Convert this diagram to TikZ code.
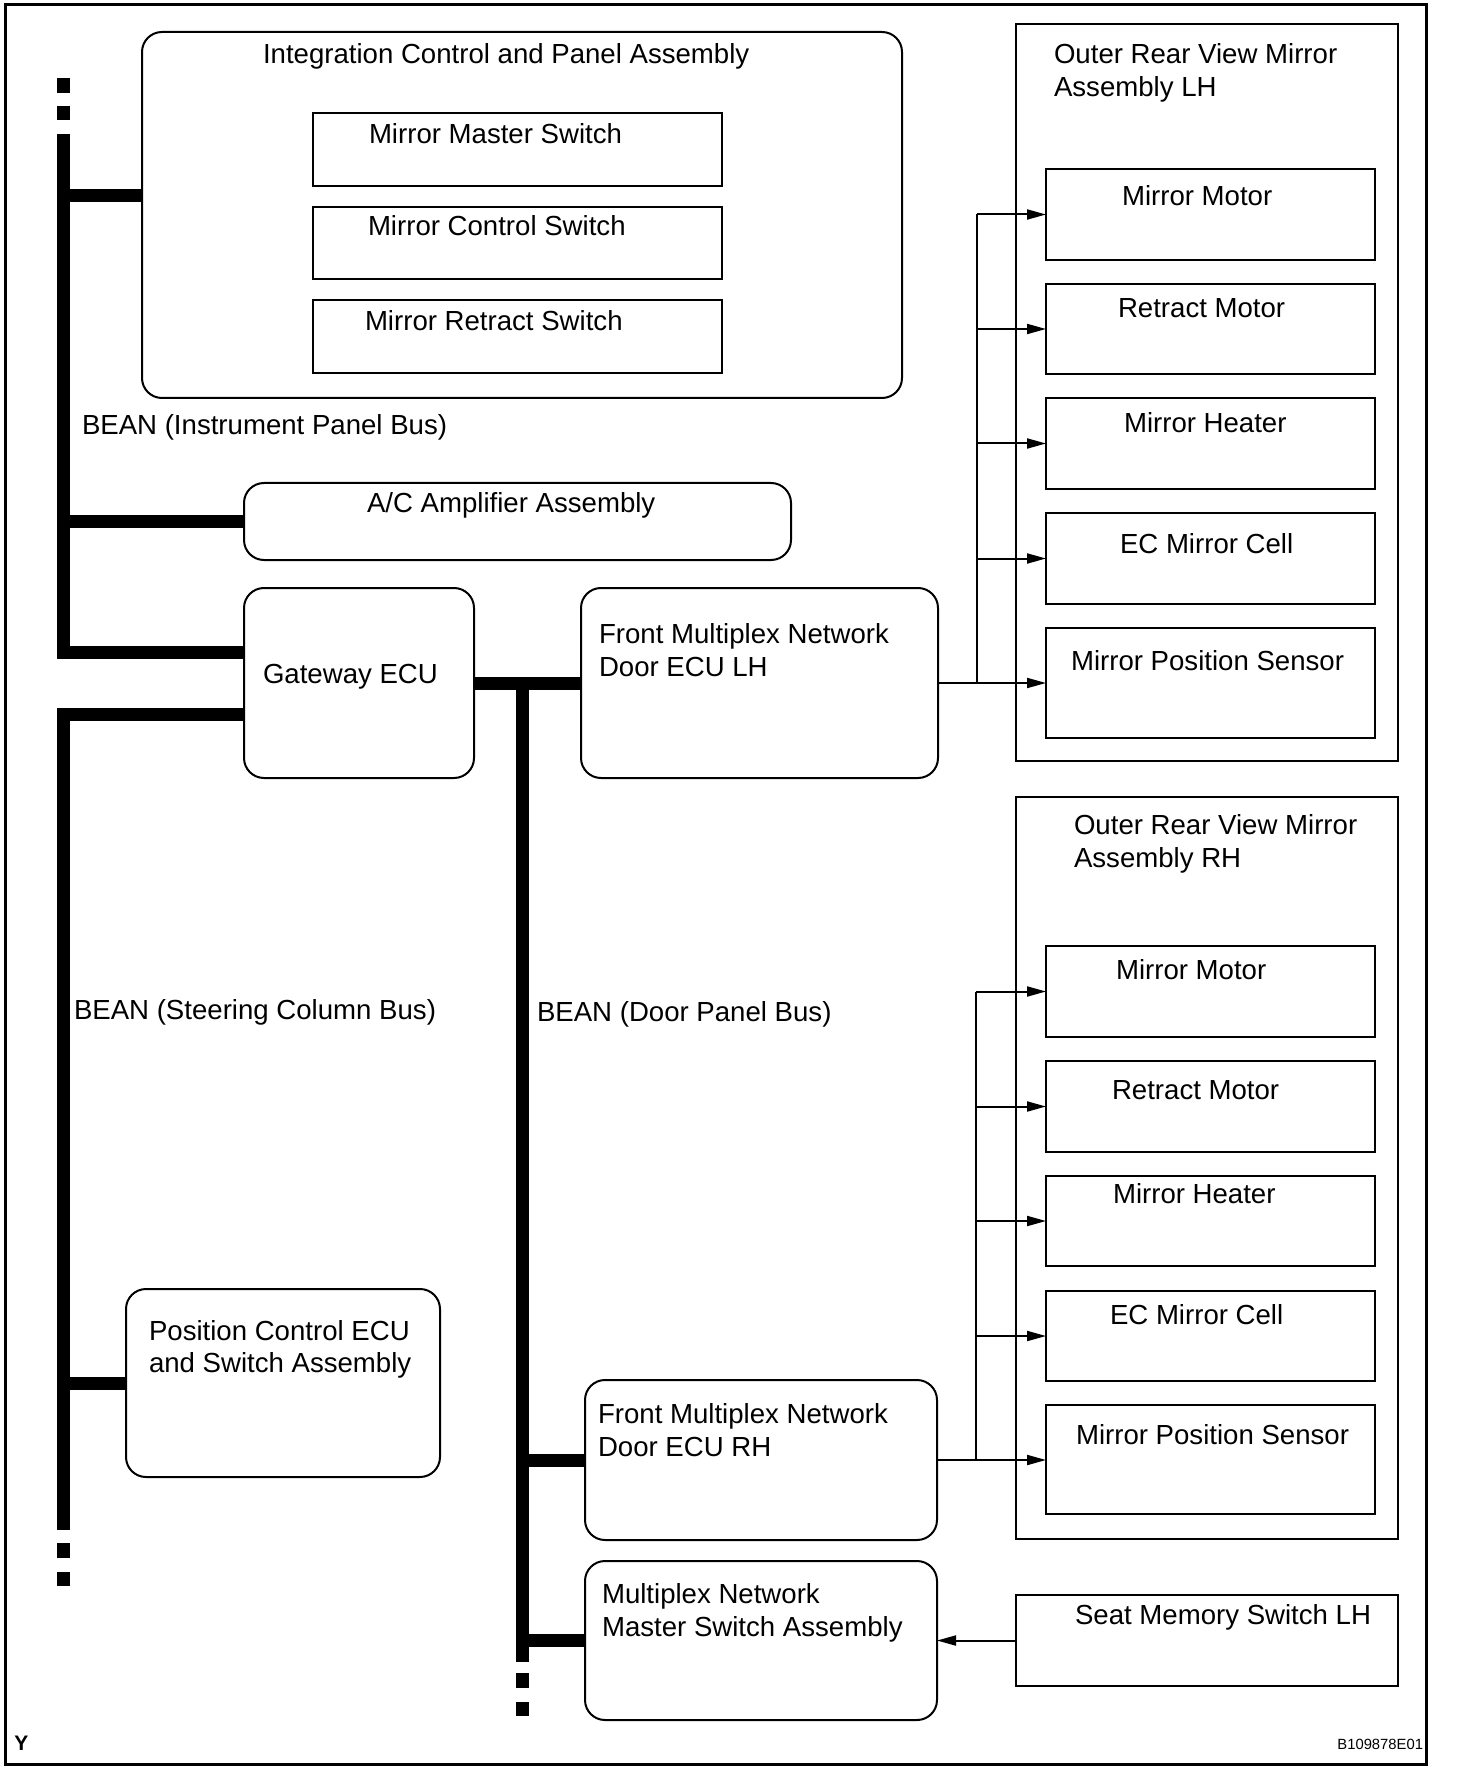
\documentclass[tikz,border=0pt]{standalone}
\usepackage{fontspec}
\setmainfont{Liberation Sans}
\usetikzlibrary{arrows.meta}
\newcommand\mkbox[6]{%
  \pgfmathsetmacro\mbcx{(#3+#5)/2}%
  \pgfmathsetmacro\mbcy{(#4+#6)/2}%
  \pgfmathsetmacro\mbw{(#5-#3)*0.5}%
  \pgfmathsetmacro\mbh{(#6-#4)*0.5}%
  \node[#2, minimum width=\mbw pt, minimum height=\mbh pt] (#1) at (\mbcx,\mbcy) {};}
\newcommand\mktxt[4]{\node[lbl] (#1) at (#2,#3) {#4};}
\tikzset{
  box/.style={draw, line width=1pt, inner sep=0pt, outer sep=0pt, rectangle},
  rbox/.style={box, rounded corners=10pt},
  lbl/.style={anchor=base west, inner sep=0pt, outer sep=0pt, font=\fontsize{13.8pt}{16.5pt}\selectfont},
  bus/.style={line width=6.5pt, line cap=butt, line join=miter},
  conn/.style={line width=1pt},
  arr/.style={conn, -{Triangle[length=9.5pt,width=5pt]}},
}
\begin{document}
\begin{tikzpicture}[x=0.5pt,y=-0.5pt]
\useasboundingbox (0,0) rectangle (1472,1780);
\fill[white] (0,0) rectangle (1472,1780);
\draw[line width=1.5pt] (5,5) rectangle (1426,1764);

% ---- boxes ----
\mkbox{icp}{rbox}{142}{32}{902}{398}
\mkbox{mms}{box}{313}{113}{722}{186}
\mkbox{mcs}{box}{313}{207}{722}{279}
\mkbox{mrs}{box}{313}{300}{722}{373}
\mkbox{acamp}{rbox}{244}{483}{791}{560}
\mkbox{gw}{rbox}{244}{588}{474}{778}
\mkbox{fmlh}{rbox}{581}{588}{938}{778}
\mkbox{lhframe}{box}{1016}{24}{1398}{761}
\mkbox{lmm}{box}{1046}{169}{1375}{260}
\mkbox{lrm}{box}{1046}{284}{1375}{374}
\mkbox{lmh}{box}{1046}{398}{1375}{489}
\mkbox{lec}{box}{1046}{513}{1375}{604}
\mkbox{lps}{box}{1046}{628}{1375}{738}
\mkbox{rhframe}{box}{1016}{797}{1398}{1539}
\mkbox{rmm}{box}{1046}{946}{1375}{1037}
\mkbox{rrm}{box}{1046}{1061}{1375}{1152}
\mkbox{rmh}{box}{1046}{1176}{1375}{1266}
\mkbox{rec}{box}{1046}{1291}{1375}{1381}
\mkbox{rps}{box}{1046}{1405}{1375}{1514}
\mkbox{fmrh}{rbox}{585}{1380}{937}{1540}
\mkbox{mnms}{rbox}{585}{1561}{937}{1720}
\mkbox{sms}{box}{1016}{1595}{1398}{1686}
\mkbox{pcs}{rbox}{126}{1289}{440}{1477}

% ---- texts ----
\mktxt{ticp}{263}{64}{Integration Control and Panel Assembly}
\mktxt{tmms}{369}{144}{Mirror Master Switch}
\mktxt{tmcs}{368}{236}{Mirror Control Switch}
\mktxt{tmrs}{365}{331}{Mirror Retract Switch}
\mktxt{tbip}{82}{435}{BEAN (Instrument Panel Bus)}
\mktxt{tac}{367}{513}{A/C Amplifier Assembly}
\mktxt{tgw}{263}{683}{Gateway ECU}
\mktxt{tfl1}{599}{643}{Front Multiplex Network}
\mktxt{tfl2}{599}{676}{Door ECU LH}
\mktxt{tlh1}{1054}{64}{Outer Rear View Mirror}
\mktxt{tlh2}{1054}{97}{Assembly LH}
\mktxt{tlmm}{1122}{206}{Mirror Motor}
\mktxt{tlrm}{1118}{318}{Retract Motor}
\mktxt{tlmh}{1124}{433}{Mirror Heater}
\mktxt{tlec}{1120}{553}{EC Mirror Cell}
\mktxt{tlps}{1071}{670}{Mirror Position Sensor}
\mktxt{trh1}{1074}{834}{Outer Rear View Mirror}
\mktxt{trh2}{1074}{867}{Assembly RH}
\mktxt{trmm}{1116}{979}{Mirror Motor}
\mktxt{trrm}{1112}{1099}{Retract Motor}
\mktxt{trmh}{1113}{1203}{Mirror Heater}
\mktxt{trec}{1110}{1324}{EC Mirror Cell}
\mktxt{trps}{1076}{1444}{Mirror Position Sensor}
\mktxt{tbsc}{74}{1019}{BEAN (Steering Column Bus)}
\mktxt{tbdp}{537}{1021}{BEAN (Door Panel Bus)}
\mktxt{tpc1}{149}{1340}{Position Control ECU}
\mktxt{tpc2}{149}{1372}{and Switch Assembly}
\mktxt{tfr1}{598}{1423}{Front Multiplex Network}
\mktxt{tfr2}{598}{1456}{Door ECU RH}
\mktxt{tmn1}{602}{1603}{Multiplex Network}
\mktxt{tmn2}{602}{1636}{Master Switch Assembly}
\mktxt{tsms}{1075}{1624}{Seat Memory Switch LH}
\node[anchor=base west, inner sep=0pt, font=\fontsize{7.4pt}{8.5pt}\selectfont] (code) at (1337,1749) {B109878E01};
\node[anchor=base west, inner sep=0pt, font=\fontsize{10.5pt}{12pt}\selectfont\bfseries] (ymark) at (14,1750) {Y};

% ---- instrument panel bus ----
\coordinate (ipd1a) at (63.5,78);  \coordinate (ipd1b) at (63.5,93);
\coordinate (ipd2a) at (63.5,106); \coordinate (ipd2b) at (63.5,120);
\draw[bus] (ipd1a) -- (ipd1b);
\draw[bus] (ipd2a) -- (ipd2b);
\coordinate (iptop) at (63.5,134);
\coordinate (ipcorner) at (63.5,652);
\draw[bus] (iptop) -- (ipcorner) -- (ipcorner -| gw.west);
\coordinate (bricp) at (63.5,195.5);
\draw[bus] (bricp) -- (bricp -| icp.west);
\coordinate (brac) at (63.5,521.5);
\draw[bus] (brac) -- (acamp.west);

% ---- steering column bus ----
\coordinate (sccorner) at (63.5,714.5);
\coordinate (scend) at (63.5,1530);
\draw[bus] (sccorner -| gw.west) -- (sccorner) -- (scend);
\coordinate (brpc) at (63.5,1383);
\draw[bus] (brpc) -- (pcs.west);
\coordinate (scd1a) at (63.5,1543); \coordinate (scd1b) at (63.5,1558);
\coordinate (scd2a) at (63.5,1572); \coordinate (scd2b) at (63.5,1586);
\draw[bus] (scd1a) -- (scd1b);
\draw[bus] (scd2a) -- (scd2b);

% ---- door panel bus ----
\draw[bus] (gw.east) -- (fmlh.west);
\coordinate (dptop) at (522.5,683);
\coordinate (dpend) at (522.5,1662);
\draw[bus] (dptop) -- (dpend);
\coordinate (brfr) at (522.5,1460);
\draw[bus] (brfr) -- (fmrh.west);
\coordinate (brmn) at (522.5,1640.5);
\draw[bus] (brmn) -- (mnms.west);
\coordinate (dpd1a) at (522.5,1673); \coordinate (dpd1b) at (522.5,1688);
\coordinate (dpd2a) at (522.5,1702); \coordinate (dpd2b) at (522.5,1716);
\draw[bus] (dpd1a) -- (dpd1b);
\draw[bus] (dpd2a) -- (dpd2b);

% ---- LH mirror connections ----
\coordinate (lhsplit) at (977,683);
\coordinate (lhtop) at (977,214.5);
\draw[conn] (lhsplit) -- (lhtop);
\draw[arr] (lhtop) -- (lmm.west);
\draw[arr] (lhtop |- lrm.west) -- (lrm.west);
\draw[arr] (lhtop |- lmh.west) -- (lmh.west);
\draw[arr] (lhtop |- lec.west) -- (lec.west);
\draw[arr] (fmlh.east) -- (lps.west);

% ---- RH mirror connections ----
\coordinate (rhsplit) at (976,1460);
\coordinate (rhtop) at (976,991.5);
\draw[conn] (rhsplit) -- (rhtop);
\draw[arr] (rhtop) -- (rmm.west);
\draw[arr] (rhtop |- rrm.west) -- (rrm.west);
\draw[arr] (rhtop |- rmh.west) -- (rmh.west);
\draw[arr] (rhtop |- rec.west) -- (rec.west);
\draw[arr] (fmrh.east) -- (fmrh.east -| rps.west);

% ---- seat memory switch ----
\draw[arr] (sms.west) -- (sms.west -| mnms.east);
\end{tikzpicture}
\end{document}
